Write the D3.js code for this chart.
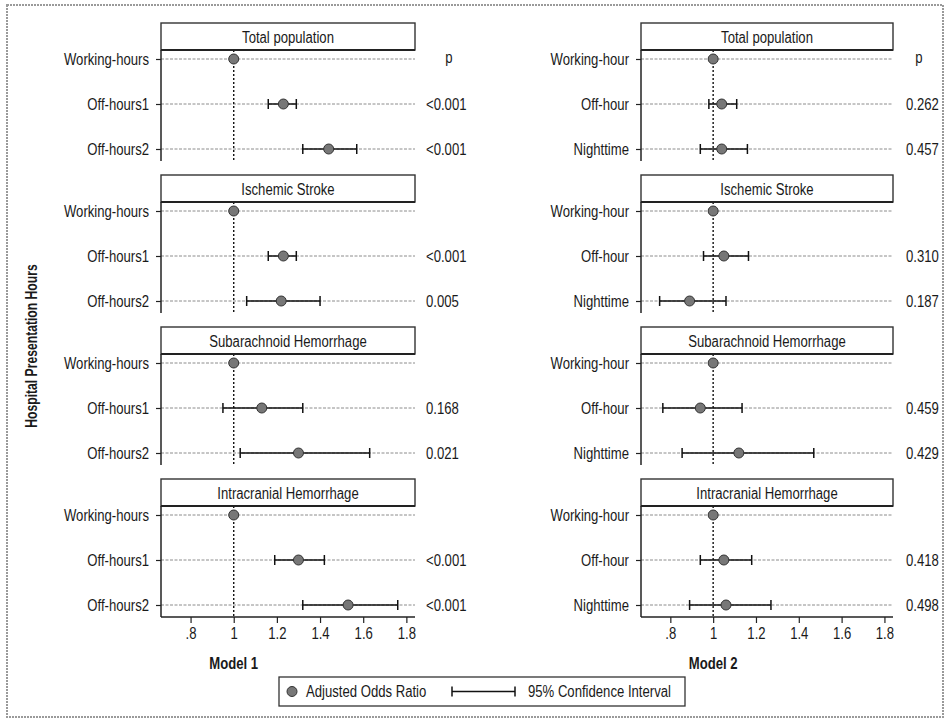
<!DOCTYPE html>
<html><head><meta charset="utf-8">
<script src="https://cdn.jsdelivr.net/npm/d3@7"></script>
<style>
body{margin:0;background:#fff;}
text{font-family:"Liberation Sans",Arial,sans-serif;fill:#1a1a1a;}
</style></head>
<body><svg id="c" width="948" height="724"></svg>
<script>
const panels = ["Total population","Ischemic Stroke","Subarachnoid Hemorrhage","Intracranial Hemorrhage"];
const cats1 = ["Working-hours","Off-hours1","Off-hours2"];
const cats2 = ["Working-hour","Off-hour","Nighttime"];
const m1OR = [[1,1.23,1.44],[1,1.23,1.22],[1,1.13,1.30],[1,1.30,1.53]];
const m1Lo = [[null,1.16,1.32],[null,1.16,1.06],[null,0.95,1.03],[null,1.19,1.32]];
const m1Hi = [[null,1.29,1.57],[null,1.29,1.40],[null,1.32,1.63],[null,1.42,1.76]];
const m1P = [["","<0.001","<0.001"],["","<0.001","0.005"],["","0.168","0.021"],["","<0.001","<0.001"]];
const m2OR = [[1,1.04,1.04],[1,1.05,0.89],[1,0.94,1.12],[1,1.05,1.06]];
const m2Lo = [[null,0.98,0.94],[null,0.955,0.75],[null,0.765,0.855],[null,0.94,0.89]];
const m2Hi = [[null,1.11,1.16],[null,1.165,1.06],[null,1.135,1.47],[null,1.18,1.27]];
const m2P = [["","0.262","0.457"],["","0.310","0.187"],["","0.459","0.429"],["","0.418","0.498"]];
const xTicks = [0.8,1,1.2,1.4,1.6,1.8];
const xTickLabels = [".8","1","1.2","1.4","1.6","1.8"];
const models = ["Model 1","Model 2"];
const yTitle = "Hospital Presentation Hours";
const legendLabels = ["Adjusted Odds Ratio","95% Confidence Interval"];
const pHeader = "p";

const SX = 0.82;
function narrow(sel, extra, sx) {
  sel.each(function(){
    const t = d3.select(this);
    const x = +t.attr("x") || 0, y = +t.attr("y") || 0;
    t.attr("x", null).attr("y", null)
     .attr("transform", `translate(${x},${y})${extra||""} scale(${sx||SX},1)`);
  });
}

const svg = d3.select("#c");
// outer frame
svg.append("rect").attr("x",7).attr("y",5).attr("width",936).attr("height",712)
  .attr("fill","none").attr("stroke","#9a9a9a").attr("stroke-width",2).attr("stroke-dasharray","2,1");

const domain = [0.663, 1.84];
const cols = [
  {x0:161, x1:415, cats:cats1, or:m1OR, lo:m1Lo, hi:m1Hi, p:m1P, model:models[0], pOff:11, pHead:34},
  {x0:641, x1:893, cats:cats2, or:m2OR, lo:m2Lo, hi:m2Hi, p:m2P, model:models[1], pOff:13, pHead:26}
];
const panelTop = i => 23 + 152*i;
const hdrH = 27, plotH = 111;
const fs = 16;

cols.forEach(c => {
  const x = d3.scaleLinear().domain(domain).range([c.x0, c.x1]);
  panels.forEach((pn, i) => {
    const top = panelTop(i);
    const g = svg.append("g");
    const y = d3.scalePoint().domain(c.cats).range([top+hdrH+9, top+hdrH+99]);
    // gridlines
    g.selectAll("line.grid").data(c.cats).join("line")
      .attr("x1", c.x0).attr("x2", c.x1).attr("y1", d=>y(d)).attr("y2", d=>y(d))
      .attr("stroke","#8c8c8c").attr("stroke-width",1).attr("stroke-dasharray","3,1.5");
    // reference line at 1
    g.append("line").attr("x1",x(1)).attr("x2",x(1)).attr("y1",top+hdrH).attr("y2",top+hdrH+plotH)
      .attr("stroke","#111").attr("stroke-width",1.4).attr("stroke-dasharray","2,2");
    // y axis
    const ya = d3.axisLeft(y).tickSize(5).tickPadding(7);
    const ag = g.append("g").attr("transform",`translate(${c.x0},0)`).call(ya);
    ag.select(".domain").attr("d",`M-0,${top+hdrH}V${top+hdrH+plotH}`).attr("stroke","#222").attr("stroke-width",1.5);
    ag.selectAll(".tick line").attr("stroke","#222").attr("stroke-width",1.2);
    ag.selectAll(".tick text").attr("font-size",fs).attr("fill","#1a1a1a")
      .style("font-family",'"Liberation Sans",Arial,sans-serif').call(narrow);
    // header box
    g.append("rect").attr("x",c.x0).attr("y",top).attr("width",c.x1-c.x0).attr("height",hdrH)
      .attr("fill","#fff").attr("stroke","#333").attr("stroke-width",1.4);
    g.append("line").attr("x1",c.x0).attr("x2",c.x1).attr("y1",top+hdrH).attr("y2",top+hdrH)
      .attr("stroke","#222").attr("stroke-width",2);
    g.append("text").attr("x",(c.x0+c.x1)/2).attr("y",top+hdrH/2+1).attr("dy","0.35em")
      .attr("text-anchor","middle").attr("font-size",fs).text(pn).call(narrow);
    // CIs
    const rows = c.cats.map((cat,j)=>({cat, or:c.or[i][j], lo:c.lo[i][j], hi:c.hi[i][j], p:c.p[i][j]}));
    const ci = rows.filter(r=>r.lo!=null);
    g.selectAll("line.ci").data(ci).join("line")
      .attr("x1",d=>x(d.lo)).attr("x2",d=>x(d.hi)).attr("y1",d=>y(d.cat)).attr("y2",d=>y(d.cat))
      .attr("stroke","#111").attr("stroke-width",1.5);
    g.selectAll("line.capl").data(ci).join("line")
      .attr("x1",d=>x(d.lo)).attr("x2",d=>x(d.lo)).attr("y1",d=>y(d.cat)-5).attr("y2",d=>y(d.cat)+5)
      .attr("stroke","#111").attr("stroke-width",1.5);
    g.selectAll("line.caph").data(ci).join("line")
      .attr("x1",d=>x(d.hi)).attr("x2",d=>x(d.hi)).attr("y1",d=>y(d.cat)-5).attr("y2",d=>y(d.cat)+5)
      .attr("stroke","#111").attr("stroke-width",1.5);
    g.selectAll("circle").data(rows).join("circle")
      .attr("cx",d=>x(d.or)).attr("cy",d=>y(d.cat)).attr("r",5)
      .attr("fill","#777").attr("stroke","#333").attr("stroke-width",1);
    // p-values
    g.selectAll("text.p").data(rows.filter(r=>r.p)).join("text")
      .attr("x",c.x1+c.pOff).attr("y",d=>y(d.cat)).attr("dy","0.35em")
      .attr("font-size",fs).text(d=>d.p).call(narrow);
    if (i===0) {
      g.append("text").attr("x",c.x1+c.pHead).attr("y",y(c.cats[0])-2).attr("dy","0.35em")
        .attr("text-anchor","middle").attr("font-size",fs).text(pHeader).call(narrow);
    }
  });
  // x axis
  const axY = panelTop(3)+hdrH+plotH;
  const xa = d3.axisBottom(x).tickValues(xTicks).tickFormat((d,k)=>xTickLabels[k]).tickSize(6).tickPadding(5);
  const xg = svg.append("g").attr("transform",`translate(0,${axY})`).call(xa);
  xg.select(".domain").attr("d",`M${c.x0},0H${c.x1}`).attr("stroke","#222").attr("stroke-width",1.5);
  xg.selectAll(".tick line").attr("stroke","#222").attr("stroke-width",1.2);
  xg.selectAll(".tick text").attr("font-size",fs).attr("fill","#1a1a1a")
    .style("font-family",'"Liberation Sans",Arial,sans-serif').call(narrow);
  svg.append("text").attr("x",x(1)).attr("y",663).attr("dy","0.35em").attr("text-anchor","middle")
    .attr("font-size",fs).attr("font-weight","bold").text(c.model).call(narrow);
});

// y title
svg.append("text").attr("x",31).attr("y",346).attr("text-anchor","middle")
  .attr("dy","0.35em").attr("font-size",16).attr("font-weight","bold").text(yTitle)
  .call(narrow, " rotate(-90)", 0.76);

// legend
const lg = svg.append("g");
lg.append("rect").attr("x",279).attr("y",677).attr("width",406).attr("height",29)
  .attr("fill","#fff").attr("stroke","#333").attr("stroke-width",1.3);
lg.append("circle").attr("cx",292).attr("cy",691.5).attr("r",5).attr("fill","#777").attr("stroke","#333");
lg.append("text").attr("x",306).attr("y",691.5).attr("dy","0.35em").attr("font-size",fs).text(legendLabels[0]).call(narrow);
lg.append("line").attr("x1",452).attr("x2",515).attr("y1",691.5).attr("y2",691.5).attr("stroke","#111").attr("stroke-width",1.5);
lg.append("line").attr("x1",452).attr("x2",452).attr("y1",686.5).attr("y2",696.5).attr("stroke","#111").attr("stroke-width",1.5);
lg.append("line").attr("x1",515).attr("x2",515).attr("y1",686.5).attr("y2",696.5).attr("stroke","#111").attr("stroke-width",1.5);
lg.append("text").attr("x",528).attr("y",691.5).attr("dy","0.35em").attr("font-size",fs).text(legendLabels[1]).call(narrow);
</script></body></html>
